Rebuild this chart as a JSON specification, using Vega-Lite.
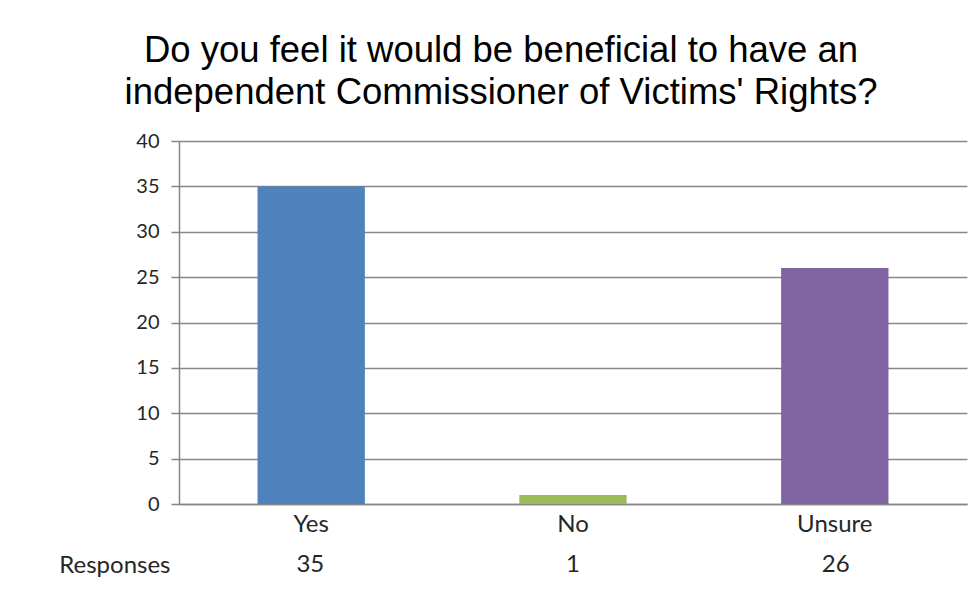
{
  "$schema": "https://vega.github.io/schema/vega-lite/v6.json",
  "background": "white",
  "padding": {"left": 58, "right": 11, "top": 32, "bottom": 2},
  "title": {
    "text": ["Do you feel it would be beneficial to have an", "independent Commissioner of Victims' Rights?"],
    "font": "Liberation Sans",
    "fontSize": 36.5,
    "fontWeight": "normal",
    "color": "#000000",
    "anchor": "middle",
    "frame": "group",
    "lineHeight": 42,
    "offset": 20,
    "dx": -72
  },
  "data": {
    "values": [
      {"answer": "Yes", "count": 35, "series": "Responses"},
      {"answer": "No", "count": 1, "series": "Responses"},
      {"answer": "Unsure", "count": 26, "series": "Responses"}
    ]
  },
  "spacing": 14,
  "vconcat": [
    {
      "width": 788,
      "height": 363,
      "mark": {"type": "bar"},
      "encoding": {
        "x": {
          "field": "answer",
          "type": "nominal",
          "sort": ["Yes", "No", "Unsure"],
          "scale": {"paddingInner": 0.59, "paddingOuter": 0.3},
          "axis": {
            "title": null,
            "labelAngle": 0,
            "ticks": false,
            "domain": true,
            "domainColor": "#868686",
            "domainWidth": 1.5,
            "labelFont": "Lato",
            "labelFontSize": 24,
            "labelColor": "#262626",
            "labelPadding": 8
          }
        },
        "y": {
          "field": "count",
          "type": "quantitative",
          "scale": {"domain": [0, 40]},
          "axis": {
            "title": null,
            "values": [0, 5, 10, 15, 20, 25, 30, 35, 40],
            "grid": true,
            "gridColor": "#868686",
            "gridWidth": 1.5,
            "domain": true,
            "domainColor": "#868686",
            "domainWidth": 1.5,
            "ticks": true,
            "tickSize": 8,
            "tickColor": "#868686",
            "tickWidth": 1.5,
            "labelFont": "Lato",
            "labelFontSize": 20,
            "labelColor": "#262626",
            "labelPadding": 12
          }
        },
        "color": {
          "field": "answer",
          "type": "nominal",
          "scale": {"domain": ["Yes", "No", "Unsure"], "range": ["#4F81BD", "#9BBB59", "#8064A2"]},
          "legend": null
        }
      }
    },
    {
      "width": 788,
      "height": 30,
      "mark": {"type": "text", "font": "Lato", "fontSize": 24, "color": "#262626"},
      "encoding": {
        "x": {
          "field": "answer",
          "type": "nominal",
          "sort": ["Yes", "No", "Unsure"],
          "scale": {"paddingInner": 0.59, "paddingOuter": 0.3},
          "axis": null
        },
        "y": {
          "field": "series",
          "type": "nominal",
          "axis": {
            "title": null,
            "domain": false,
            "ticks": false,
            "labelFont": "Lato",
            "labelFontSize": 24,
            "labelColor": "#262626",
            "labelPadding": 9
          }
        },
        "text": {"field": "count", "type": "quantitative"}
      }
    }
  ],
  "config": {
    "view": {"stroke": null},
    "concat": {"spacing": 14}
  }
}
